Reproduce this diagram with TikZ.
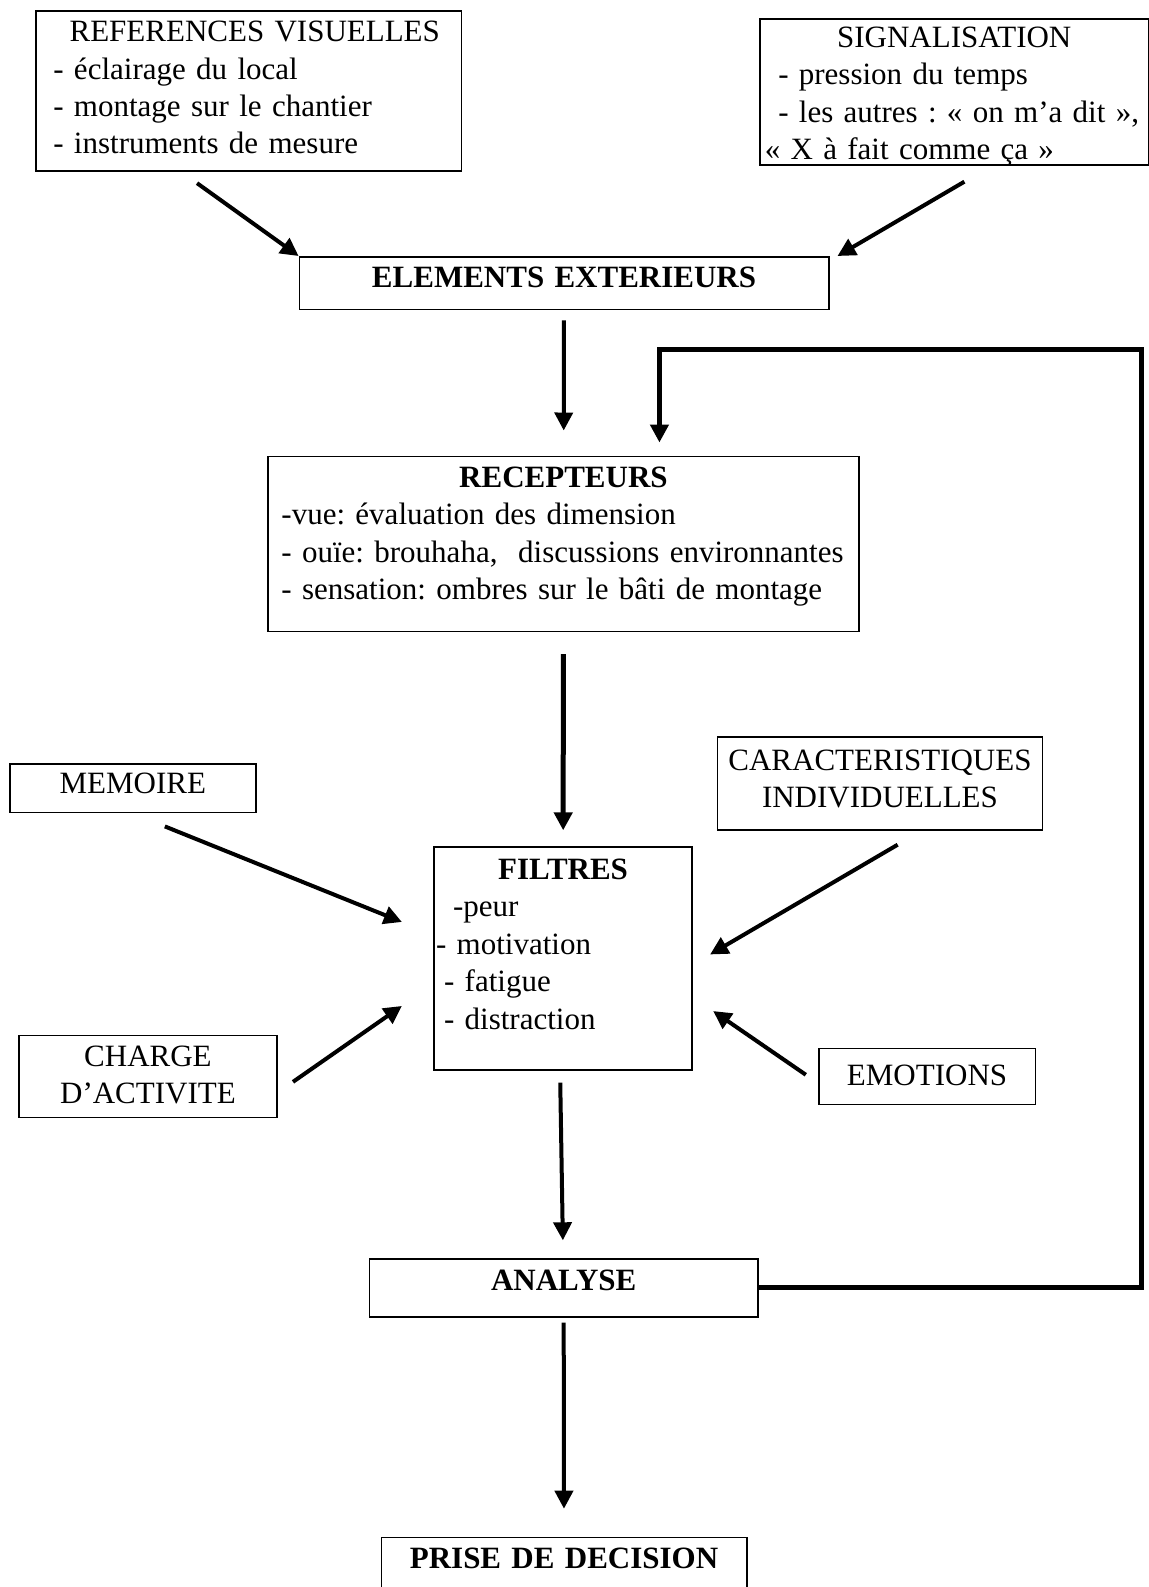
\documentclass[tikz,border=0pt]{standalone}
\usepackage{fontspec}
\setmainfont{Liberation Serif}
\usetikzlibrary{arrows.meta}
\frenchspacing
\hyphenpenalty=10000

\begin{document}
\begin{tikzpicture}[
  x=0.5pt, y=-0.5pt,
  box/.style={draw, line width=0.75pt, anchor=north west, inner xsep=3pt, inner ysep=0pt, text height=15.5pt},
  arr/.style={-{Triangle[length=9pt,width=9pt]}, line width=2pt},
  font=\fontsize{15.5}{18.7}\selectfont
]
\useasboundingbox (0,0) rectangle (1149,1587);

\node[box, inner xsep=8.6pt, text width=195.4pt, text depth=64.5pt, align=left] (ref) at (35.4,10)
  {{\centering\hspace*{6pt}REFERENCES VISUELLES\par}- éclairage du local\\- montage sur le chantier\\- instruments de mesure};
\node[box, inner xsep=2.5pt, text width=189.5pt, text height=14.35pt, text depth=58.65pt, align=left] (sig) at (759,18)
  {{\centering SIGNALISATION\par}\hspace*{6.75pt}- pression du temps\\\hspace*{6.75pt}- les autres~: «~on m’a dit~»,\\«~X à fait comme ça~»};
\node[box, text width=258.7pt, text depth=10.9pt, align=center] (ext) at (298.6,256) {\textbf{ELEMENTS EXTERIEURS}};
\node[box, inner xsep=6.85pt, text width=282pt, text depth=72.1pt, align=left] (rec) at (267,455.5)
  {{\centering\bfseries RECEPTEURS\par}-vue: évaluation des dimension\\- ouïe: brouhaha,~ discussions environnantes\\- sensation: ombres sur le bâti de montage};
\node[box, inner xsep=1pt, text width=127pt, text height=16.25pt, text depth=95.15pt, align=left] (fil) at (433.3,846.3)
  {{\centering\bfseries FILTRES\par}\hspace*{8.5pt}-peur\\- motivation\\\hspace*{4pt}- fatigue\\\hspace*{4pt}- distraction};
\node[box, text width=117pt, text height=14.75pt, text depth=9.55pt, align=center] (mem) at (9.1,763.3) {MEMOIRE};
\node[box, inner xsep=1pt, text width=160.5pt, text height=16.75pt, text depth=29.75pt, align=center] (car) at (716.7,736)
  {CARACTERISTIQUES\\INDIVIDUELLES};
\node[box, text width=123pt, text depth=25.5pt, align=center] (charge) at (18.2,1034.6) {CHARGE\\D’ACTIVITE};
\node[box, text width=102.3pt, text height=18.3pt, text depth=9.6pt, align=center] (emo) at (818,1047.7) {EMOTIONS};
\node[box, text width=188.4pt, text depth=13.4pt, align=center] (ana) at (368.5,1258.3) {\textbf{ANALYSE}};
\node[box, text width=176.7pt, text depth=15pt, align=center] (dec) at (380.6,1536.7) {\textbf{PRISE DE DECISION}};

\coordinate (back) at (1141,349);

\draw[arr, shorten <=10pt] ([xshift=72.7pt]ref.south west) -- (ext.north west);
\draw[arr, shorten <=16pt] ([xshift=116.5pt]sig.south west) -- ([xshift=4pt]ext.north east);
\draw[arr, shorten <=5pt, shorten >=12.5pt] (ext) -- (rec);
\draw[arr, line width=2.5pt, shorten >=6.5pt] (ana.east) -| (back) -| ([xshift=48pt]rec.north);
\draw[arr, line width=2.5pt, shorten <=11pt, shorten >=8pt] (rec) -- (fil);
\draw[arr] ([xshift=16pt,yshift=-6.5pt]mem.south) -- ([xshift=-15.7pt,yshift=18.25pt]fil.west);
\draw[arr] ([xshift=8.85pt,yshift=-7.1pt]car.south) -- ([xshift=8.65pt,yshift=2pt]fil.east);
\draw[arr] ([xshift=7.65pt,yshift=-2.75pt]charge.east) -- ([xshift=-15.7pt,yshift=-23.75pt]fil.west);
\draw[arr] ([xshift=-6.1pt,yshift=0.8pt]emo.west) -- ([xshift=10.2pt,yshift=-26.3pt]fil.east);
\draw[arr, shorten <=6pt, shorten >=9pt] ([xshift=-1.5pt]fil.south) -- (ana);
\draw[arr, shorten <=2.5pt, shorten >=14pt] (ana) -- (dec);
\end{tikzpicture}
\end{document}
